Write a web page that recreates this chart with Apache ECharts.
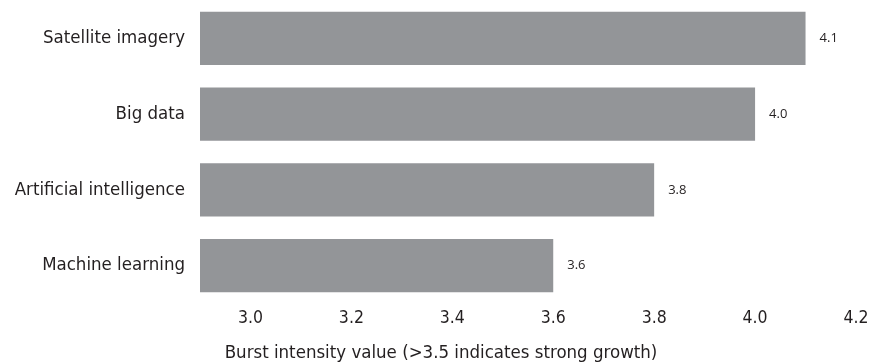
<!DOCTYPE html>
<html>
<head>
<meta charset="utf-8">
<script src="https://cdn.jsdelivr.net/npm/echarts@6/dist/echarts.min.js"></script>
<style>
  html, body { margin: 0; padding: 0; background: #ffffff; }
  #chart { width: 871px; height: 363px; }
</style>
</head>
<body>
<div id="chart"></div>
<script>
// Categories (top to bottom) and their burst intensity values
const categories = ['Satellite imagery', 'Big data', 'Artificial intelligence', 'Machine learning'];
const values = [4.1, 4.0, 3.8, 3.6];
const tickValues = [3.0, 3.2, 3.4, 3.6, 3.8, 4.0, 4.2];
const axisTitle = 'Burst intensity value (>3.5 indicates strong growth)';

const condensed = '"Liberation Sans Narrow", "DejaVu Sans Condensed", "Arial Narrow", sans-serif';
const textColor = '#231f20';

const chart = echarts.init(document.getElementById('chart'), null, { renderer: 'canvas' });
chart.setOption({
  backgroundColor: '#ffffff',
  animation: false,
  grid: {
    left: 200, right: 15, top: 0.5, bottom: 59.5,
    containLabel: false,
    outerBoundsMode: 'none'
  },
  xAxis: {
    type: 'value',
    min: 2.9,
    max: 4.2,
    axisLine: { show: false },
    axisTick: { show: false },
    splitLine: { show: false },
    axisLabel: {
      customValues: tickValues,
      formatter: v => v.toFixed(1),
      color: textColor,
      fontFamily: condensed,
      fontSize: 17.5,
      margin: 6
    },
    name: axisTitle,
    nameLocation: 'middle',
    nameGap: 40,
    // right padding pulls the centred title left of the plot centre
    nameTextStyle: {
      color: textColor,
      fontFamily: condensed,
      fontSize: 18.5,
      padding: [0, 174, 0, 0]
    }
  },
  yAxis: {
    type: 'category',
    data: categories,
    inverse: true,
    axisLine: { show: false },
    axisTick: { show: false },
    axisLabel: {
      color: textColor,
      fontFamily: condensed,
      fontSize: 18.5,
      margin: 15
    }
  },
  series: [{
    type: 'bar',
    data: values,
    barCategoryGap: '30%',
    itemStyle: { color: '#939598' },
    label: {
      show: true,
      position: 'right',
      distance: 14,
      formatter: p => p.value.toFixed(1),
      color: textColor,
      fontFamily: '"Open Sans", "Noto Sans", sans-serif',
      fontSize: 13
    }
  }]
});
</script>
</body>
</html>
